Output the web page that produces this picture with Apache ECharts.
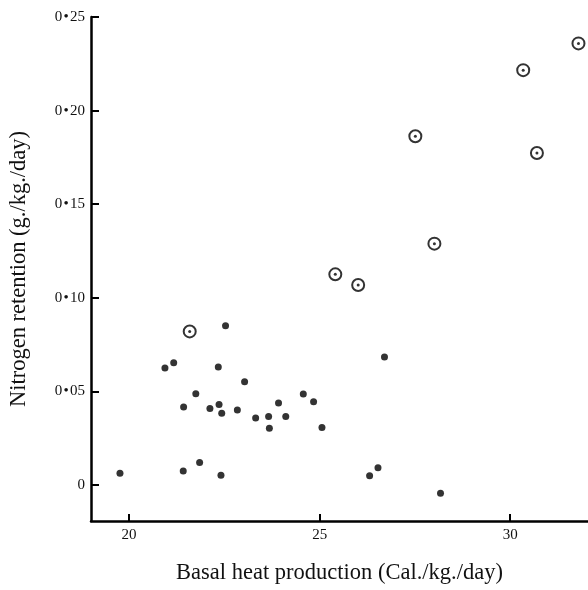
<!DOCTYPE html>
<html>
<head>
<meta charset="utf-8">
<script src="https://cdn.jsdelivr.net/npm/echarts@6/dist/echarts.min.js"></script>
<style>html,body{margin:0;padding:0;background:#fff;overflow:hidden;}#c{width:588px;height:590px;}</style>
</head>
<body>
<div id="c"></div>
<script>
// Filled dots: [basal heat production, nitrogen retention]
var dotX = [19.76, 20.94, 21.17, 21.43, 21.42, 21.75, 21.85, 22.12, 22.34, 22.36, 22.43, 22.41, 22.53, 22.84, 23.03, 23.32, 23.66, 23.68, 23.92, 24.11, 24.57, 24.84, 25.06, 26.31, 26.53, 26.70, 28.17];
var dotY = [0.0062, 0.0625, 0.0653, 0.0416, 0.0074, 0.0487, 0.0120, 0.0408, 0.0630, 0.0430, 0.0383, 0.0051, 0.0850, 0.0400, 0.0551, 0.0358, 0.0365, 0.0302, 0.0437, 0.0365, 0.0485, 0.0444, 0.0306, 0.0049, 0.0091, 0.0683, -0.0045];
// Circled points
var ringX = [21.59, 25.41, 26.01, 28.01, 27.51, 30.70, 30.34, 31.79];
var ringY = [0.0820, 0.1125, 0.1068, 0.1289, 0.1863, 0.1773, 0.2216, 0.2359];
// Tick labels
var xTicks = [20, 25, 30];
var yTicks = [0, 0.05, 0.10, 0.15, 0.20, 0.25];

function zip(a, b) { return a.map(function (v, i) { return [v, b[i]]; }); }

var FONT = '"Liberation Serif", "DejaVu Serif", serif';
var chart = echarts.init(document.getElementById('c'), null, {renderer: 'canvas', width: 588, height: 590});
chart.setOption({
  animation: false,
  backgroundColor: '#fff',
  grid: {left: 91, top: 17, right: 0, bottom: 62, containLabel: false},
  xAxis: {
    type: 'value', min: 19.0, max: 32.04,
    name: 'Basal heat production (Cal./kg./day)',
    nameLocation: 'middle', nameGap: 41,
    nameTextStyle: {fontFamily: FONT, fontSize: 22.5, color: '#111'},
    axisLine: {show: true, onZero: false, lineStyle: {color: '#000', width: 2.5}},
    axisTick: {show: true, inside: true, length: 7, customValues: xTicks, lineStyle: {color: '#000', width: 2}},
    axisLabel: {show: true, customValues: xTicks, margin: 7, fontFamily: FONT, fontSize: 15, color: '#111'},
    splitLine: {show: false}
  },
  yAxis: {
    type: 'value', min: -0.0193, max: 0.25,
    name: 'Nitrogen retention (g./kg./day)',
    nameLocation: 'middle', nameGap: 60, nameRotate: 90,
    nameTextStyle: {fontFamily: FONT, fontSize: 22.5, color: '#111'},
    axisLine: {show: true, onZero: false, lineStyle: {color: '#000', width: 2.5}},
    axisTick: {show: true, inside: true, length: 8, customValues: yTicks, lineStyle: {color: '#000', width: 2}},
    axisLabel: {show: true, customValues: yTicks, margin: 6, fontFamily: FONT, fontSize: 15, color: '#111',
      formatter: function (v) { return v === 0 ? '0' : v.toFixed(2).replace('.', '\u200a\u2022\u200a'); }},
    splitLine: {show: false}
  },
  series: [
    {type: 'scatter', data: zip(dotX, dotY), symbol: 'circle', symbolSize: 7,
     itemStyle: {color: '#000'}, clip: false},
    {type: 'scatter', data: zip(ringX, ringY), symbol: 'circle', symbolSize: 12,
     itemStyle: {color: '#fff', borderColor: '#000', borderWidth: 2}, clip: false},
    {type: 'scatter', data: zip(ringX, ringY), symbol: 'circle', symbolSize: 3,
     itemStyle: {color: '#000'}, clip: false}
  ]
});
</script>
</body>
</html>
